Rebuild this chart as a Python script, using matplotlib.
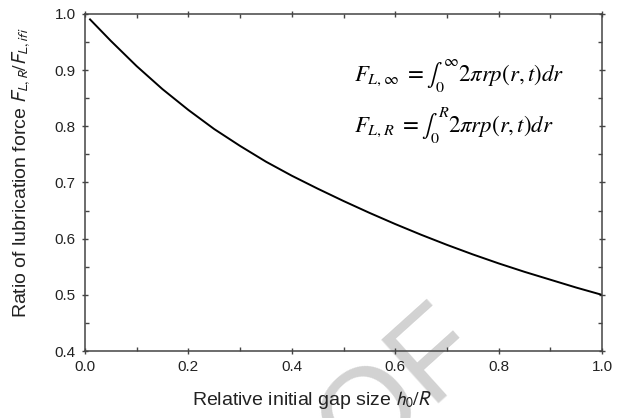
import matplotlib
matplotlib.use("Agg")
import matplotlib.pyplot as plt
from matplotlib.ticker import MultipleLocator

# values
gap_ratio = [0.01, 0.05, 0.10, 0.15, 0.20, 0.25, 0.30, 0.35, 0.40, 0.45, 0.50,
             0.55, 0.60, 0.65, 0.70, 0.75, 0.80, 0.85, 0.90, 0.95, 1.00]
force_ratio = [0.990, 0.952, 0.907, 0.866, 0.829, 0.795, 0.765, 0.737, 0.712, 0.689, 0.667,
               0.646, 0.626, 0.607, 0.589, 0.572, 0.556, 0.541, 0.527, 0.513, 0.500]

plt.rcParams['font.family'] = ['Liberation Sans', 'DejaVu Sans']

fig = plt.figure(figsize=(6.24, 4.18), dpi=100)
ax = fig.add_axes([0.136, 0.160, 0.829, 0.807])
ax.patch.set_alpha(0)

# watermark, mostly off the page
fig.text(0.780, 0.158, "PROOF", fontsize=90, color="#d2d2d2", rotation=42,
         rotation_mode="anchor", ha="right", va="baseline", zorder=-1)

ax.plot(gap_ratio, force_ratio, color="black", lw=1.4)

ax.set_xlim(0, 1.0)
ax.set_ylim(0.4, 1.0)
ax.xaxis.set_major_locator(MultipleLocator(0.2))
ax.xaxis.set_minor_locator(MultipleLocator(0.1))
ax.yaxis.set_major_locator(MultipleLocator(0.1))
ax.yaxis.set_minor_locator(MultipleLocator(0.05))
ax.xaxis.set_major_formatter(plt.FormatStrFormatter('%.1f'))
ax.yaxis.set_major_formatter(plt.FormatStrFormatter('%.1f'))

for s in ax.spines.values():
    s.set_color("#444444")
    s.set_linewidth(1.1)
ax.tick_params(which="major", direction="inout", length=5, width=1, color="#444444",
               labelsize=11, labelcolor="#222222", top=True, right=True,
               labeltop=False, labelright=False, pad=4)
ax.tick_params(which="minor", direction="in", length=3, width=1, color="#444444",
               top=True, right=True)

ax.set_xlabel(r"Relative initial gap size $h_0/R$", fontsize=14, color="#222222",
              math_fontfamily="stixsans")
ax.set_ylabel(r"Ratio of lubrication force $F_{L,R}/F_{L,ifi}$", fontsize=14,
              color="#222222", math_fontfamily="stixsans")
ax.xaxis.set_label_coords(0.44, -0.113)
ax.yaxis.set_label_coords(-0.10, 0.528)

ax.text(0.52, 0.891, r"$F_{L,\infty}\ = \int_0^{\infty} 2\pi rp(r,t)dr$",
        fontsize=16.5, math_fontfamily="stix", va="center", ha="left")
ax.text(0.52, 0.801, r"$F_{L,R}\ = \int_0^{R} 2\pi rp(r,t)dr$",
        fontsize=16.5, math_fontfamily="stix", va="center", ha="left")

fig.savefig("out.png", dpi=100)
